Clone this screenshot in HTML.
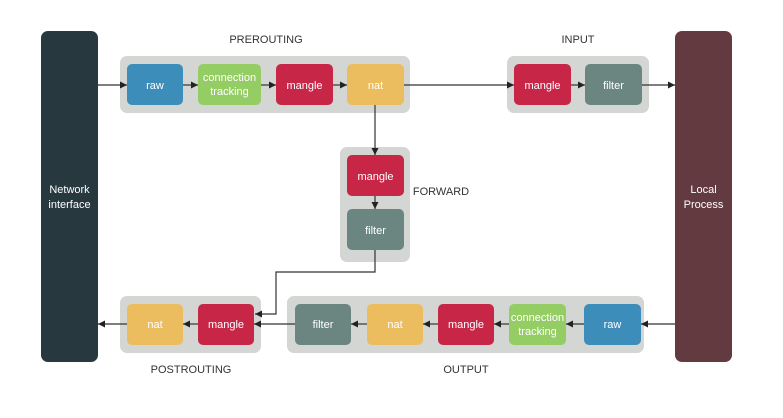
<!DOCTYPE html>
<html><head><meta charset="utf-8"><style>
html,body{margin:0;padding:0;background:#fff;}
svg{display:block;}
text{font-family:"Liberation Sans",sans-serif;}
.w{fill:#fff;font-size:11px;text-anchor:middle;}
.l{fill:#333;font-size:11px;text-anchor:middle;}
</style></head><body>
<svg width="783" height="418" viewBox="0 0 783 418" xmlns="http://www.w3.org/2000/svg">
<defs><marker id="a" markerWidth="8" markerHeight="8" refX="7" refY="4" orient="auto" markerUnits="userSpaceOnUse"><path d="M0,0.5 L7,4 L0,7.5 Z" fill="#222"/></marker></defs>
<!-- side boxes -->
<rect x="41" y="31" width="57" height="331" rx="7" fill="#27383f"/>
<text class="w" x="69.5" y="193">Network</text><text class="w" x="69.5" y="208">interface</text>
<rect x="675" y="31" width="57" height="331" rx="7" fill="#623a40"/>
<text class="w" x="703.5" y="193">Local</text><text class="w" x="703.5" y="208">Process</text>
<!-- groups -->
<rect x="120" y="56" width="290" height="57" rx="7" fill="#d3d6d3"/>
<rect x="507" y="56" width="142" height="57" rx="7" fill="#d3d6d3"/>
<rect x="340" y="147" width="70" height="115" rx="7" fill="#d3d6d3"/>
<rect x="120" y="296" width="141" height="57" rx="7" fill="#d3d6d3"/>
<rect x="287" y="296" width="357" height="57" rx="7" fill="#d3d6d3"/>
<!-- labels -->
<text class="l" x="266" y="43">PREROUTING</text>
<text class="l" x="578" y="43">INPUT</text>
<text class="l" x="441" y="195" style="text-anchor:middle">FORWARD</text>
<text class="l" x="191" y="373">POSTROUTING</text>
<text class="l" x="466" y="373">OUTPUT</text>
<!-- lines -->
<g stroke="#333" stroke-width="1.2" fill="none">
<line x1="98" y1="85" x2="127" y2="85" marker-end="url(#a)"/>
<line x1="183" y1="85" x2="198" y2="85" marker-end="url(#a)"/>
<line x1="261" y1="85" x2="276" y2="85" marker-end="url(#a)"/>
<line x1="333" y1="85" x2="347" y2="85" marker-end="url(#a)"/>
<line x1="404" y1="85" x2="514" y2="85" marker-end="url(#a)"/>
<line x1="571" y1="85" x2="585" y2="85" marker-end="url(#a)"/>
<line x1="642" y1="85" x2="675" y2="85" marker-end="url(#a)"/>
<line x1="375" y1="105" x2="375" y2="155" marker-end="url(#a)"/>
<line x1="375" y1="196" x2="375" y2="209" marker-end="url(#a)"/>
<polyline points="375,250 375,272 276,272 276,314 255,314" marker-end="url(#a)"/>
<line x1="675" y1="324" x2="641" y2="324" marker-end="url(#a)"/>
<line x1="584" y1="324" x2="566" y2="324" marker-end="url(#a)"/>
<line x1="509" y1="324" x2="494" y2="324" marker-end="url(#a)"/>
<line x1="438" y1="324" x2="423" y2="324" marker-end="url(#a)"/>
<line x1="367" y1="324" x2="351" y2="324" marker-end="url(#a)"/>
<line x1="295" y1="324" x2="254" y2="324" marker-end="url(#a)"/>
<line x1="198" y1="324" x2="183" y2="324" marker-end="url(#a)"/>
<line x1="127" y1="324" x2="98" y2="324" marker-end="url(#a)"/>
</g>
<!-- prerouting -->
<rect x="127" y="64" width="56" height="41" rx="5" fill="#3d8dbb"/><text class="w" x="155" y="89">raw</text>
<rect x="198" y="64" width="63" height="41" rx="5" fill="#95cd65"/><text class="w" x="229.5" y="81">connection</text><text class="w" x="229.5" y="95">tracking</text>
<rect x="276" y="64" width="57" height="41" rx="5" fill="#c82647"/><text class="w" x="304.5" y="89">mangle</text>
<rect x="347" y="64" width="57" height="41" rx="5" fill="#ebbd5f"/><text class="w" x="375.5" y="89">nat</text>
<!-- input -->
<rect x="514" y="64" width="57" height="41" rx="5" fill="#c82647"/><text class="w" x="542.5" y="89">mangle</text>
<rect x="585" y="64" width="57" height="41" rx="5" fill="#6b8680"/><text class="w" x="613.5" y="89">filter</text>
<!-- forward -->
<rect x="347" y="155" width="57" height="41" rx="5" fill="#c82647"/><text class="w" x="375.5" y="180">mangle</text>
<rect x="347" y="209" width="57" height="41" rx="5" fill="#6b8680"/><text class="w" x="375.5" y="234">filter</text>
<!-- postrouting -->
<rect x="127" y="304" width="56" height="41" rx="5" fill="#ebbd5f"/><text class="w" x="155" y="328">nat</text>
<rect x="198" y="304" width="56" height="41" rx="5" fill="#c82647"/><text class="w" x="226" y="328">mangle</text>
<!-- output -->
<rect x="295" y="304" width="56" height="41" rx="5" fill="#6b8680"/><text class="w" x="323" y="328">filter</text>
<rect x="367" y="304" width="56" height="41" rx="5" fill="#ebbd5f"/><text class="w" x="395" y="328">nat</text>
<rect x="438" y="304" width="56" height="41" rx="5" fill="#c82647"/><text class="w" x="466" y="328">mangle</text>
<rect x="509" y="304" width="57" height="41" rx="5" fill="#95cd65"/><text class="w" x="537.5" y="321">connection</text><text class="w" x="537.5" y="335">tracking</text>
<rect x="584" y="304" width="57" height="41" rx="5" fill="#3d8dbb"/><text class="w" x="612.5" y="328">raw</text>
</svg>
</body></html>
